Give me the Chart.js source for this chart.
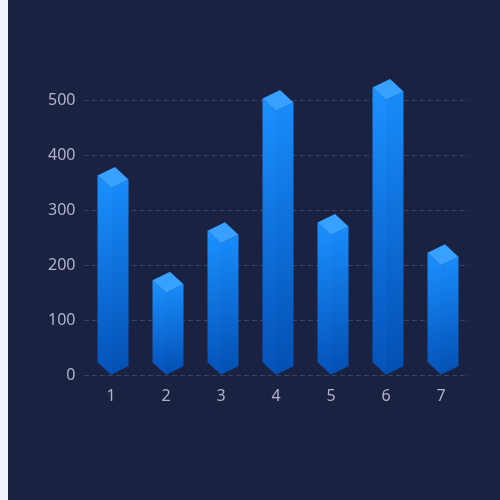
<!DOCTYPE html>
<html>
<head>
<meta charset="utf-8">
<script src="https://cdn.jsdelivr.net/npm/chart.js@4/dist/chart.umd.min.js"></script>
<style>
    html, body { margin: 0; padding: 0; background: #f1f3f9; }
    #wrap { position: absolute; left: 8px; top: 0; width: 492px; height: 500px; background: #1b2140; }
</style>
</head>
<body>
<div id="wrap"><canvas id="barChart"></canvas></div>
<script>
// Data
const categories = ['1', '2', '3', '4', '5', '6', '7'];
const values = [340, 150, 240, 480, 255, 500, 200];
const yTicks = [0, 100, 200, 300, 400, 500];

// Cube offsets (px)
const LEFT_W = 13.5, LEFT_H = 12.5;
const RIGHT_W = 17.5, RIGHT_H = 8.5;

function poly(ctx, pts, fill) {
    ctx.beginPath();
    ctx.moveTo(pts[0][0], pts[0][1]);
    for (let i = 1; i < pts.length; i++) ctx.lineTo(pts[i][0], pts[i][1]);
    ctx.closePath();
    ctx.fillStyle = fill;
    ctx.fill();
}

// Draw 3D cubes on top of the (transparent) bars
const cubePlugin = {
    id: 'cube',
    afterDatasetsDraw(chart) {
        const ctx = chart.ctx;
        const meta = chart.getDatasetMeta(0);
        ctx.save();
        meta.data.forEach(bar => {
            const x = bar.x, y = bar.y, base = bar.base;

            const leftGrad = ctx.createLinearGradient(0, y - LEFT_H, 0, base);
            leftGrad.addColorStop(0, '#1b91ff');
            leftGrad.addColorStop(1, '#0452b9');
            poly(ctx, [[x - LEFT_W, y - LEFT_H], [x, y], [x, base], [x - LEFT_W, base - LEFT_H]], leftGrad);

            const rightGrad = ctx.createLinearGradient(0, y - RIGHT_H, 0, base);
            rightGrad.addColorStop(0, '#188cfb');
            rightGrad.addColorStop(1, '#034fb2');
            poly(ctx, [[x, y], [x + RIGHT_W, y - RIGHT_H], [x + RIGHT_W, base - RIGHT_H], [x, base]], rightGrad);

            poly(ctx, [[x - LEFT_W, y - LEFT_H], [x - LEFT_W + RIGHT_W, y - LEFT_H - RIGHT_H], [x + RIGHT_W, y - RIGHT_H], [x, y]], '#38a0ff');
        });
        ctx.restore();
    }
};

new Chart(document.getElementById('barChart').getContext('2d'), {
    type: 'bar',
    data: {
        labels: categories,
        datasets: [{
            data: values,
            backgroundColor: 'rgba(0,0,0,0)',
            borderWidth: 0
        }]
    },
    options: {
        responsive: true,
        maintainAspectRatio: false,
        animation: false,
        layout: { padding: { top: 100, right: 31.5, bottom: 0, left: 0 } },
        plugins: {
            legend: { display: false },
            tooltip: { enabled: false }
        },
        scales: {
            x: {
                grid: { display: false, drawTicks: false },
                border: { display: false },
                ticks: { color: '#aeb5c9', padding: 12, font: { family: 'Noto Sans', size: 16 } },
                afterFit: s => { s.height = 124.7; }
            },
            y: {
                min: 0,
                max: 500,
                afterBuildTicks: s => { s.ticks = yTicks.map(v => ({ value: v })); },
                grid: { color: '#394263', drawTicks: false },
                border: { display: false, dash: [5, 3] },
                ticks: { color: '#aeb5c9', padding: 8, font: { family: 'Noto Sans', size: 16 } },
                afterFit: s => { s.width = 75.5; }
            }
        }
    },
    plugins: [cubePlugin]
});
</script>
</body>
</html>
